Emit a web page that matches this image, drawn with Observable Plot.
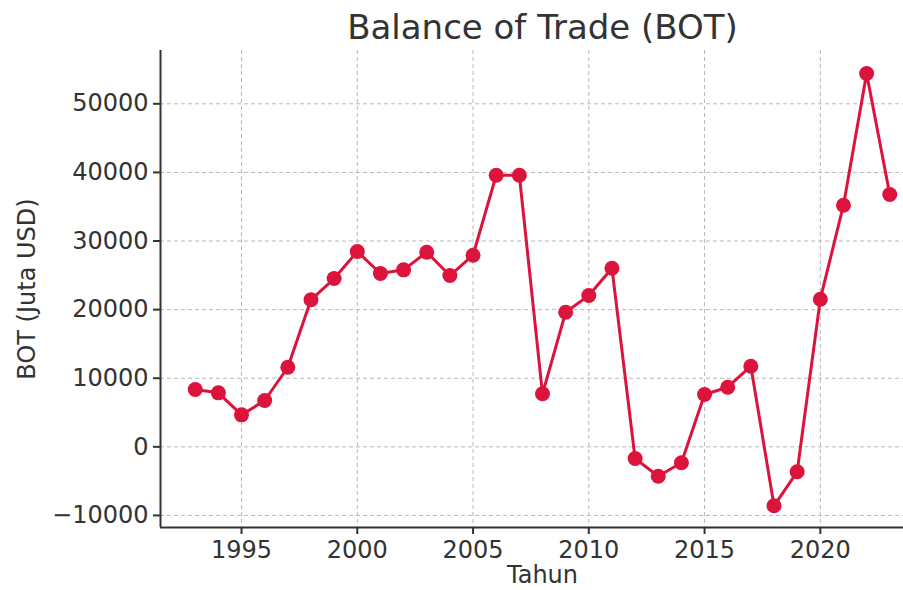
<!DOCTYPE html>
<html>
<head>
<meta charset="utf-8">
<script src="https://cdn.jsdelivr.net/npm/d3@7"></script>
<script src="https://cdn.jsdelivr.net/npm/@observablehq/plot@0.6"></script>
<style>
  html, body { margin: 0; padding: 0; background: white; overflow: hidden; }
  body { width: 903px; height: 590px; font-family: "DejaVu Sans", sans-serif; }
  #title { height: 50px; line-height: 54px; font-size: 34px; color: #333; text-align: center; padding-left: 182px; box-sizing: border-box; white-space: nowrap; }
</style>
</head>
<body>
<div id="title">Balance of Trade (BOT)</div>
<div id="chart"></div>
<script>
const years = [1993, 1994, 1995, 1996, 1997, 1998, 1999, 2000, 2001, 2002, 2003, 2004, 2005, 2006, 2007, 2008, 2009, 2010, 2011, 2012, 2013, 2014, 2015, 2016, 2017, 2018, 2019, 2020, 2021, 2022, 2023];
const bot = [8350, 7870, 4660, 6750, 11600, 21430, 24530, 28470, 25260, 25800, 28370, 24970, 27930, 39590, 39590, 7730, 19620, 22060, 26040, -1700, -4290, -2330, 7620, 8690, 11750, -8600, -3640, 21520, 35220, 54420, 36780];
const xTicks = [1995, 2000, 2005, 2010, 2015, 2020];
const yTicks = [-10000, 0, 10000, 20000, 30000, 40000, 50000];
const xLabel = "Tahun";
const yLabel = "BOT (Juta USD)";

const data = years.map((y, i) => ({year: y, value: bot[i]}));
const xDomain = [1991.5, 2024.5];
const yDomain = [-11760, 57770];

const chart = Plot.plot({
  width: 903,
  height: 540,
  marginLeft: 160,
  marginRight: -21,
  marginTop: 0,
  marginBottom: 63,
  style: {fontFamily: "DejaVu Sans, sans-serif", color: "#333", background: "white", overflow: "visible"},
  x: {domain: xDomain, label: null},
  y: {domain: yDomain, label: null},
  marks: [
    Plot.gridX(xTicks, {stroke: "#b8b8b8", strokeOpacity: 1, strokeWidth: 1, strokeDasharray: "4,3"}),
    Plot.gridY(yTicks, {stroke: "#b8b8b8", strokeOpacity: 1, strokeWidth: 1, strokeDasharray: "4,3"}),
    Plot.axisX({ticks: xTicks, tickFormat: d3.format("d"), tickSize: 7, tickPadding: 6, fontSize: 24, strokeWidth: 2, label: null}),
    Plot.axisY({ticks: yTicks, tickFormat: d3.format("d"), tickSize: 7, tickPadding: 5, fontSize: 24, strokeWidth: 2, label: null}),
    Plot.ruleX([xDomain[0]], {stroke: "#333", strokeWidth: 2}),
    Plot.ruleY([yDomain[0]], {stroke: "#333", strokeWidth: 2}),
    Plot.line(data, {x: "year", y: "value", stroke: "#DC143C", strokeWidth: 3}),
    Plot.dot(data, {x: "year", y: "value", fill: "#DC143C", r: 7.5}),
    Plot.text([xLabel], {text: d => d, frameAnchor: "bottom", dy: 55, fontSize: 24, fill: "#333"}),
    Plot.text([yLabel], {text: d => d, frameAnchor: "left", textAnchor: "middle", lineAnchor: "middle", dx: -133, rotate: -90, fontSize: 24, fill: "#333"})
  ]
});
document.getElementById("chart").appendChild(chart);
</script>
</body>
</html>
